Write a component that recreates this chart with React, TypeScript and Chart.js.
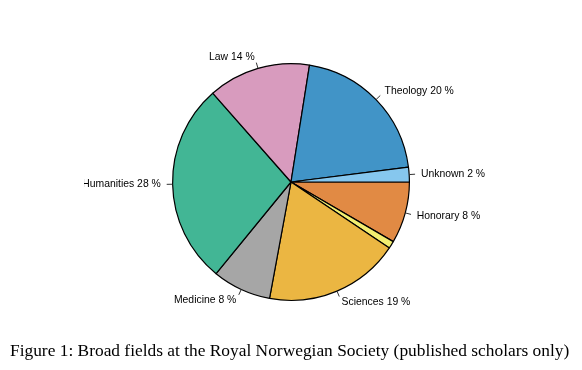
import React, { useEffect, useRef } from "react";
import { Chart, registerables } from "chart.js";

Chart.register(...registerables);

// Slices in the original (counter-clockwise from 3 o'clock) order
const categories = ["Unknown", "Theology", "Law", "Humanities", "Medicine", "Sciences", "", "Honorary"];
const values = [2.0, 20.5, 14.0, 27.6, 8.0, 18.5, 1.0, 8.4];
const sliceLabels = ["Unknown 2 %", "Theology 20 %", "Law 14 %", "Humanities 28 %", "Medicine 8 %", "Sciences 19 %", "", "Honorary 8 %"];
const colors = ["#86c7ee", "#4194c7", "#d89bbe", "#42b695", "#a6a6a6", "#ebb642", "#f2ee70", "#e18a44"];
const caption = "Figure 1: Broad fields at the Royal Norwegian Society (published scholars only)";

const W = 582;
const H = 370;

const labelPlugin = {
  id: "pieLabels",
  afterDraw(chart: any) {
    const ctx = chart.ctx as CanvasRenderingContext2D;
    const meta = chart.getDatasetMeta(0);
    const labs: string[] = chart.data.labelsText;
    ctx.save();
    ctx.beginPath();
    ctx.rect(84, 0, W - 84, H);
    ctx.clip();
    meta.data.forEach((arc: any, i: number) => {
      const text = labs[i];
      if (!text) return;
      const { startAngle, endAngle, x, y, outerRadius } = arc.getProps(["startAngle", "endAngle", "x", "y", "outerRadius"], true);
      const mid = (startAngle + endAngle) / 2;
      const c = Math.cos(mid);
      const s = Math.sin(mid);
      ctx.strokeStyle = "#333";
      ctx.lineWidth = 1;
      ctx.beginPath();
      ctx.moveTo(x + c * outerRadius, y + s * outerRadius);
      ctx.lineTo(x + c * outerRadius * 1.05, y + s * outerRadius * 1.05);
      ctx.stroke();
      ctx.fillStyle = "#000";
      ctx.font = "10.4px 'Liberation Sans', Arial, sans-serif";
      ctx.textBaseline = "middle";
      ctx.textAlign = c >= 0 ? "left" : "right";
      ctx.fillText(text, x + c * outerRadius * 1.1, y + s * outerRadius * 1.1);
    });
    ctx.restore();

    // caption
    ctx.save();
    ctx.fillStyle = "#000";
    ctx.textBaseline = "alphabetic";
    ctx.textAlign = "left";
    let size = 17;
    ctx.font = `${size}px 'Liberation Serif', 'DejaVu Serif', serif`;
    const w = ctx.measureText(caption).width;
    size = size * (560 / w);
    ctx.font = `${size}px 'Liberation Serif', 'DejaVu Serif', serif`;
    ctx.fillText(caption, 10, 356);
    ctx.restore();
  },
};

export default function App() {
  const ref = useRef<HTMLCanvasElement | null>(null);
  useEffect(() => {
    document.body.style.margin = "0";
    const canvas = ref.current!;
    const rev = <T,>(a: T[]) => a.slice().reverse();
    const data: any = {
      labels: rev(categories),
      labelsText: rev(sliceLabels),
      datasets: [
        {
          data: rev(values),
          backgroundColor: rev(colors),
          borderColor: "#000",
          borderWidth: 1.2,
        },
      ],
    };
    const chart = new Chart(canvas, {
      type: "pie",
      data,
      options: {
        responsive: false,
        animation: false,
        rotation: 90,
        layout: { padding: { left: 172, right: 172, top: 63, bottom: 69 } },
        plugins: { legend: { display: false }, tooltip: { enabled: false } },
        events: [],
      },
      plugins: [labelPlugin],
    });
    return () => chart.destroy();
  }, []);
  return (
    <div style={{ position: "absolute", left: 0, top: 0, width: W, height: H, background: "#fff" }}>
      <canvas ref={ref} width={W} height={H} style={{ width: W, height: H, display: "block" }} />
    </div>
  );
}
